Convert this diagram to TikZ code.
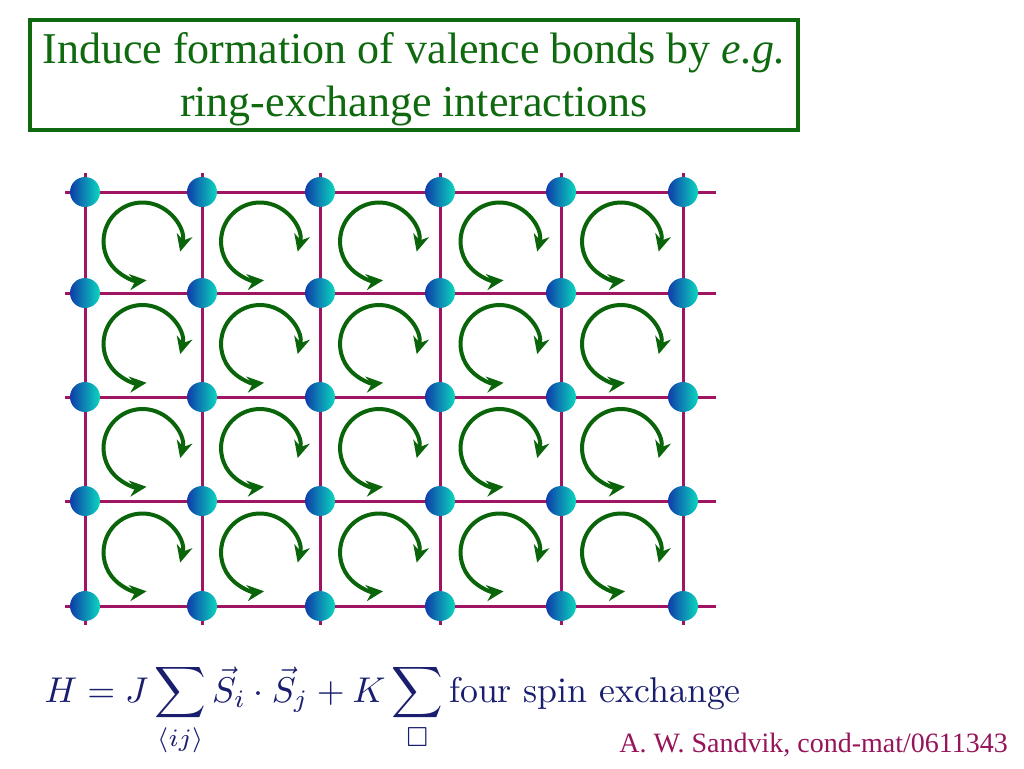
\documentclass[tikz,border=0pt]{standalone}
\usepackage{amsmath,amssymb}
\usepackage{fontspec}
\newfontfamily\timesfont{Liberation Serif}
\usepackage{tikz}
\usetikzlibrary{arrows.meta,calc}

\definecolor{bondcol}{RGB}{160,20,100}
\definecolor{ringcol}{RGB}{10,100,10}
\definecolor{titlecol}{RGB}{15,105,15}
\definecolor{spinL}{RGB}{15,60,170}
\definecolor{spinR}{RGB}{10,215,190}
\definecolor{formcol}{RGB}{25,30,110}
\definecolor{citecol}{RGB}{150,20,90}

\begin{document}
\begin{tikzpicture}[
  x=1pt, y=1pt,
  titlebox/.style={draw=titlecol, line width=4pt, minimum width=768pt,
                   minimum height=110pt, inner sep=0pt},
  titletext/.style={text=titlecol, align=center, inner sep=0pt,
                    font=\timesfont\fontsize{44}{53}\selectfont},
  bond/.style={draw=bondcol, line width=3pt},
  spin/.style={circle, minimum size=30pt, inner sep=0pt,
               left color=spinL, right color=spinR},
  ring/.style={draw=ringcol, line width=4pt,
               {Stealth[length=17pt,width=16pt]}-{Stealth[length=17pt,width=16pt]}}]
\useasboundingbox (0,0) rectangle (1024,-768);

% title
\node[titlebox] (frame) at (414,-75) {};
\node[titletext] (title) at (414,-79.5)
  {Induce formation of valence bonds by \textit{e.g.}\\ ring-exchange interactions};

% lattice bonds
\foreach \y [count=\j] in {192,293,397,501,606} {
  \coordinate (w\j) at (65,-\y);
  \coordinate (e\j) at (716,-\y);
  \draw[bond] (w\j) -- (e\j);
}
\foreach \x [count=\i] in {85,202,320,440,561,683} {
  \coordinate (top\i) at (\x,-173);
  \coordinate (bot\i) at (\x,-625);
  \draw[bond] (top\i) -- (bot\i);
}

% spins
\foreach \x [count=\i] in {85,202,320,440,561,683}
  \foreach \y [count=\j] in {192,293,397,501,606}
    \node[spin] (s\i\j) at (\x,-\y) {};

% ring exchange on each plaquette
\foreach \i/\ii in {1/2,2/3,3/4,4/5,5/6}
  \foreach \j/\jj in {1/2,2/3,3/4,4/5} {
    \coordinate (c\i\j) at ($(s\i\j)!0.5!(s\ii\jj)+(-1,1)$);
    \draw[ring] ($(c\i\j)+(-15:39)$) arc[start angle=-15, end angle=276, radius=39];
  }

% Hamiltonian
\node[anchor=base west, text=formcol, scale=3.58, inner sep=0pt] (ham) at (44,-702)
  {$\displaystyle H = J\sum_{\langle ij\rangle}\vec{S}_i\cdot\vec{S}_j
    + K\sum_{\Box}\text{four spin exchange}$};

% reference
\node[anchor=base east, text=citecol, inner sep=0pt,
      font=\timesfont\fontsize{28}{34}\selectfont] (cite) at (1008,-752)
  {A. W. Sandvik, cond-mat/0611343};
\end{tikzpicture}
\end{document}
